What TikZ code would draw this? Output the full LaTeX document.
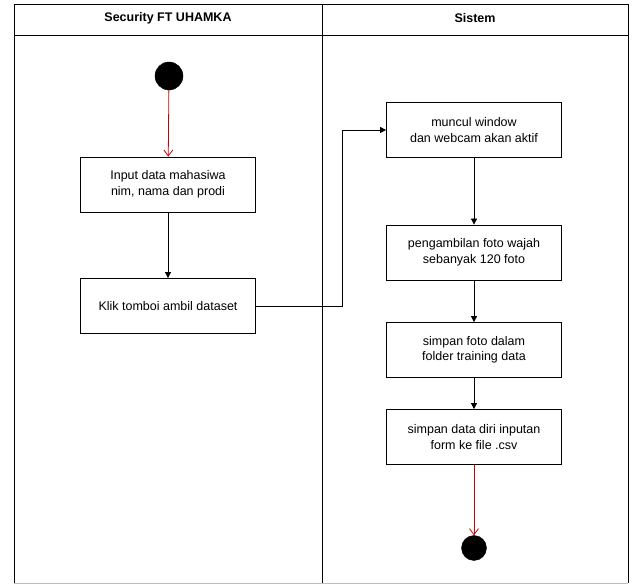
\documentclass[tikz,border=0pt]{standalone}
\usepackage{fontspec}
\setmainfont{Liberation Sans}
\usepackage{tikz}
\usetikzlibrary{positioning,arrows.meta,calc}

\begin{document}
\begin{tikzpicture}[
  x=1pt, y=-1pt,
  lane/.style={draw, line width=0.8pt},
  lanehead/.style={font=\bfseries\fontsize{12.5}{14}\selectfont},
  box/.style={draw, line width=0.8pt, minimum width=175pt, minimum height=55pt, align=center,
    font=\fontsize{12.5}{15.5}\selectfont, inner sep=2pt},
  dot/.style={circle, fill=black, draw=black, minimum size=#1, inner sep=0pt},
  arr/.style={-{Triangle[length=6pt,width=6pt]}, line width=0.8pt},
  redarr/.style={-{Straight Barb[length=6pt,width=9pt]}, red!80!black, line width=0.8pt}
]
\useasboundingbox (0,0) rectangle (633,585);

% swimlanes
\draw[lane] (14,583) -- (14,4) -- (628,4) -- (628,583);
\draw[black!25, line width=0.8pt] (14,583) -- (628,583);
\draw[lane] (14,35) -- (628,35);
\draw[lane] (322,4) -- (322,583);
\node[lanehead] (laneA) at (168,18) {Security FT UHAMKA};
\node[lanehead] (laneB) at (475,18) {Sistem};

% left lane
\node[dot=28pt] (start) at (169,76) {};
\node[box] (input) at (168,184.5) {Input data mahasiwa\\nim, nama dan prodi};
\node[box] (klik) at (168,306) {Klik tomboi ambil dataset};

% right lane
\node[box] (muncul) at (474,130) {muncul window\\dan webcam akan aktif};
\node[box] (ambil) at (474,252.5) {pengambilan foto wajah\\sebanyak 120 foto};
\node[box] (simpan) at (474,350) {simpan foto dalam\\folder training data};
\node[box] (csv) at (474,437) {simpan data diri inputan\\form ke file .csv};
\node[dot=25pt] (end) at (474,548) {};

\draw[redarr] (start) -- (input);
\draw[arr] (input) -- (klik);
\draw[arr] (klik.east) -| (342,130) -- (muncul.west);
\draw[arr] (muncul) -- (ambil);
\draw[arr] (ambil) -- (simpan);
\draw[arr] (simpan) -- (csv);
\draw[redarr] (csv) -- (end);
\end{tikzpicture}
\end{document}
